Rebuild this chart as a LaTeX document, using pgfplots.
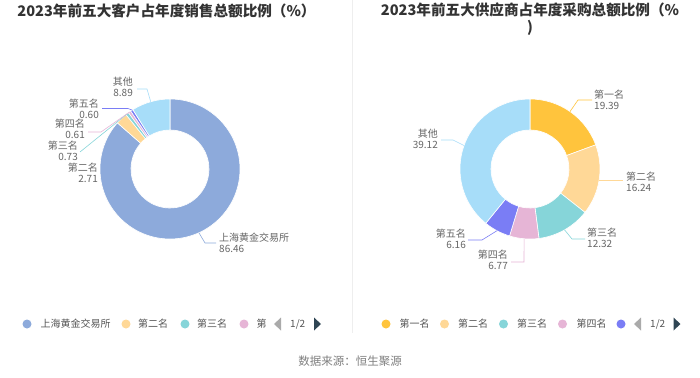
\documentclass[border=0pt]{standalone}
\usepackage{fontspec}
\setmainfont{Noto Sans CJK SC}
\usepackage{pgfplots}
\usepackage{pgfplotstable}
\pgfplotsset{compat=1.18}

\definecolor{L0}{HTML}{8DAADB}
\definecolor{L1}{HTML}{FFD897}
\definecolor{L2}{HTML}{86D5D9}
\definecolor{L3}{HTML}{E6B5D6}
\definecolor{L4}{HTML}{7A7DF5}
\definecolor{L5}{HTML}{A7DDF9}
\definecolor{R0}{HTML}{FFC43D}
\definecolor{R1}{HTML}{FFD897}
\definecolor{R2}{HTML}{86D5D9}
\definecolor{R3}{HTML}{E6B5D6}
\definecolor{R4}{HTML}{7A7DF5}
\definecolor{R5}{HTML}{A7DDF9}
\definecolor{titlec}{HTML}{333333}
\definecolor{labc}{HTML}{666666}
\definecolor{legc}{HTML}{555555}
\definecolor{srcc}{HTML}{808080}
\definecolor{sepc}{HTML}{EEEEEE}
\definecolor{pgoff}{HTML}{AAAAAA}
\definecolor{pgon}{HTML}{2F4554}

% 2023 top five customers, share of annual sales (%)
\pgfplotstableread{
name value
上海黄金交易所 86.46
第二名 2.71
第三名 0.73
第四名 0.61
第五名 0.60
其他 8.89
}\custtbl
% 2023 top five suppliers, share of annual purchases (%)
\pgfplotstableread{
name value
第一名 19.39
第二名 16.24
第三名 12.32
第四名 6.77
第五名 6.16
其他 39.12
}\supptbl

\newcommand\computeangles[2]{%
  \xdef\cumangle{90}%
  \foreach \i in {0,...,5}{%
    \pgfplotstablegetelem{\i}{value}\of#1%
    \pgfmathsetmacro\angA{\cumangle}%
    \pgfmathsetmacro\angB{\cumangle-3.6*\pgfplotsretval}%
    \expandafter\xdef\csname #2s\i\endcsname{\angA}%
    \expandafter\xdef\csname #2e\i\endcsname{\angB}%
    \xdef\cumangle{\angB}%
  }%
}
\computeangles{\custtbl}{L}
\computeangles{\supptbl}{R}

\newcommand\slice[5]{%
  \fill[#1, draw=white, line width=0.6pt]
    (axis cs:{#2+70*cos(#4)},{#3-70*sin(#4)})
    arc[start angle=#4, end angle=#5, radius=70bp]
    -- (axis cs:{#2+39*cos(#5)},{#3-39*sin(#5)})
    arc[start angle=#5, end angle=#4, radius=39bp] -- cycle;
}
\newcommand\labfont{\fontsize{10bp}{11bp}\selectfont}

\begin{document}
\begin{tikzpicture}
\useasboundingbox[fill=white] (0,0) rectangle (700bp,378bp);
\begin{axis}[
  at={(0,0)}, anchor=south west,
  scale only axis, width=700bp, height=378bp,
  xmin=0, xmax=700, ymin=0, ymax=378, y dir=reverse,
  hide axis, clip=false,
]
% separator
\draw[sepc, line width=0.8pt] (axis cs:352,0) -- (axis cs:352,333);

% titles
\node[font=\fontsize{14.6bp}{17bp}\selectfont\bfseries, text=titlec, inner sep=0pt] at (axis cs:166.5,11) {2023年前五大客户占年度销售总额比例（\%）};
\node[font=\fontsize{14.6bp}{16.5bp}\selectfont\bfseries, text=titlec, inner sep=0pt, align=center, anchor=north] at (axis cs:530,3) {2023年前五大供应商占年度采购总额比例（\%\\)};

% donuts
\pgfplotsinvokeforeach{0,...,5}{\slice{L#1}{170}{169}{\csname Ls#1\endcsname}{\csname Le#1\endcsname}}
\pgfplotsinvokeforeach{0,...,5}{\slice{R#1}{530}{169}{\csname Rs#1\endcsname}{\csname Re#1\endcsname}}

% left leader lines and labels
\begin{scope}[line width=0.6pt]
\draw[L0] (axis cs:198.9,232.7) -- (axis cs:205,243) -- (axis cs:216,243);
\draw[L2] (axis cs:127,114) -- (axis cs:80,152);
\draw[L3] (axis cs:129.6,112) -- (axis cs:101,132) -- (axis cs:88,132);
\draw[L4] (axis cs:132,110) -- (axis cs:128,108.5) -- (axis cs:102,108.5);
\draw[L5] (axis cs:150.7,101.7) -- (axis cs:147,89) -- (axis cs:137,89);
\draw[R0] (axis cs:570,111.6) -- (axis cs:578,100) -- (axis cs:592,100);
\draw[R1] (axis cs:599.1,180) -- (axis cs:623,180);
\draw[R2] (axis cs:564.6,229.9) -- (axis cs:572,239) -- (axis cs:585,239);
\draw[R3] (axis cs:524.1,238.8) -- (axis cs:524,262) -- (axis cs:511,262);
\draw[R4] (axis cs:497,230.7) -- (axis cs:482,240) -- (axis cs:468,240);
\draw[R5] (axis cs:464,145.5) -- (axis cs:453,140) -- (axis cs:441,140);
\end{scope}
\begin{scope}[every node/.style={font=\labfont, text=labc, inner sep=0pt}]
\node[anchor=west, align=left] at (axis cs:219,243) {上海黄金交易所\\86.46};
\node[anchor=east, align=right] at (axis cs:98,173) {第二名\\2.71};
\node[anchor=east, align=right] at (axis cs:78,151) {第三名\\0.73};
\node[anchor=east, align=right] at (axis cs:85,129) {第四名\\0.61};
\node[anchor=east, align=right] at (axis cs:99,108.5) {第五名\\0.60};
\node[anchor=east, align=right] at (axis cs:133,87) {其他\\8.89};
\node[anchor=west, align=left] at (axis cs:594,100) {第一名\\19.39};
\node[anchor=west, align=left] at (axis cs:626,182) {第二名\\16.24};
\node[anchor=west, align=left] at (axis cs:587,237.5) {第三名\\12.32};
\node[anchor=east, align=right] at (axis cs:508,260) {第四名\\6.77};
\node[anchor=east, align=right] at (axis cs:466,238.5) {第五名\\6.16};
\node[anchor=east, align=right] at (axis cs:438,139) {其他\\39.12};
\end{scope}

% legends
\begin{scope}[every node/.style={font=\labfont, text=legc, inner sep=0pt, anchor=west}]
\fill[L0] (axis cs:27,324) circle[radius=4.5bp];
\node at (axis cs:40.5,324) {上海黄金交易所};
\fill[L1] (axis cs:126,324) circle[radius=4.5bp];
\node at (axis cs:138,324) {第二名};
\fill[L2] (axis cs:185,324) circle[radius=4.5bp];
\node at (axis cs:197,324) {第三名};
\fill[L3] (axis cs:244,324) circle[radius=4.5bp];
\node at (axis cs:256.5,324) {第};
\fill[pgoff] (axis cs:274,324) -- (axis cs:281,317.5) -- (axis cs:281,330.5) -- cycle;
\node at (axis cs:290,324) {1/2};
\fill[pgon] (axis cs:314,317.5) -- (axis cs:314,330.5) -- (axis cs:321,324) -- cycle;

\fill[R0] (axis cs:386,324) circle[radius=4.5bp];
\node at (axis cs:399.5,324) {第一名};
\fill[R1] (axis cs:444.5,324) circle[radius=4.5bp];
\node at (axis cs:458,324) {第二名};
\fill[R2] (axis cs:503.5,324) circle[radius=4.5bp];
\node at (axis cs:517,324) {第三名};
\fill[R3] (axis cs:562.5,324) circle[radius=4.5bp];
\node at (axis cs:576.5,324) {第四名};
\fill[R4] (axis cs:621,324) circle[radius=4.5bp];
\fill[pgoff] (axis cs:634,324) -- (axis cs:641,317.5) -- (axis cs:641,330.5) -- cycle;
\node at (axis cs:650,324) {1/2};
\fill[pgon] (axis cs:673.5,317.5) -- (axis cs:673.5,330.5) -- (axis cs:680.5,324) -- cycle;
\end{scope}

% source
\node[font=\fontsize{11.5bp}{13bp}\selectfont, text=srcc, inner sep=0pt] at (axis cs:350,361) {数据来源：恒生聚源};
\end{axis}
\end{tikzpicture}
\end{document}
